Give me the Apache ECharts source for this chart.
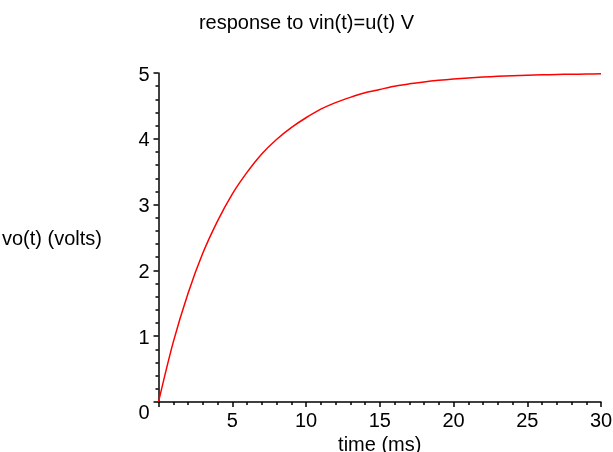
<!DOCTYPE html>
<html>
<head>
<meta charset="utf-8">
<script src="https://cdn.jsdelivr.net/npm/echarts@6/dist/echarts.min.js"></script>
<style>
html,body{margin:0;padding:0;background:#fff;}
#chart{width:613px;height:452px;}
</style>
</head>
<body>
<div id="chart"></div>
<script>
// time in ms
var timeMs = [0,1,2,3,4,5,6,7,8,9,10,11,12,13,14,15,16,17,18,19,20,21,22,23,24,25,26,27,28,29,30];
// vo(t) in volts
var voltage = [0,0.91,1.65,2.26,2.75,3.16,3.49,3.77,3.99,4.17,4.32,4.45,4.55,4.63,4.70,4.75,4.80,4.835,4.864,4.888,4.908,4.925,4.939,4.950,4.959,4.966,4.972,4.977,4.981,4.984,4.987];
var titleText = 'response to vin(t)=u(t) V';
var xName = 'time (ms)';
var yName = 'vo(t) (volts)';

var font = 'Liberation Sans, Arial, sans-serif';
var pts = timeMs.map(function(t,i){return [t, voltage[i]];});

var chart = echarts.init(document.getElementById('chart'), null, {renderer:'canvas'});
chart.setOption({
  backgroundColor:'#fff',
  animation:false,
  title:{
    text:titleText, left:'center', top:8,
    textStyle:{fontFamily:font, fontSize:20, fontWeight:'normal', color:'#000'}
  },
  graphic:[{
    type:'text', left:2, top:229,
    style:{text:yName, font:'20px ' + font, fill:'#000'}
  }],
  grid:{left:158.5, right:12, top:73, bottom:50, outerBoundsMode:'none', containLabel:false},
  xAxis:{
    type:'value', min:0, max:30, interval:5,
    name:xName, nameLocation:'middle', nameGap:29,
    nameTextStyle:{fontFamily:font, fontSize:20, color:'#000'},
    axisLine:{show:true, onZero:false, lineStyle:{color:'#000', width:1.5}},
    axisTick:{show:true, length:5, lineStyle:{color:'#000', width:1.5}},
    minorTick:{show:true, splitNumber:5, length:3, lineStyle:{color:'#000', width:1.5}},
    axisLabel:{showMinLabel:false, margin:9, fontFamily:font, fontSize:20, color:'#000'},
    splitLine:{show:false}
  },
  yAxis:{
    type:'value', min:0, max:5, interval:1,
    axisLine:{show:true, onZero:false, lineStyle:{color:'#000', width:1.5}},
    axisTick:{show:true, length:5, lineStyle:{color:'#000', width:1.5}},
    minorTick:{show:true, splitNumber:5, length:3, lineStyle:{color:'#000', width:1.5}},
    axisLabel:{
      margin:9, fontFamily:font, fontSize:20, color:'#000',
      formatter:function(v){ return v===0 ? '{z|0}' : '{n|' + v + '}'; },
      rich:{
        z:{fontFamily:font, fontSize:20, color:'#000', padding:[22,0,0,0]},
        n:{fontFamily:font, fontSize:20, color:'#000', padding:[4,0,0,0]}
      }
    },
    splitLine:{show:false}
  },
  series:[{
    type:'line', data:pts, smooth:0.3, showSymbol:false,
    lineStyle:{color:'#ff0000', width:1.5}
  }]
});
</script>
</body>
</html>
